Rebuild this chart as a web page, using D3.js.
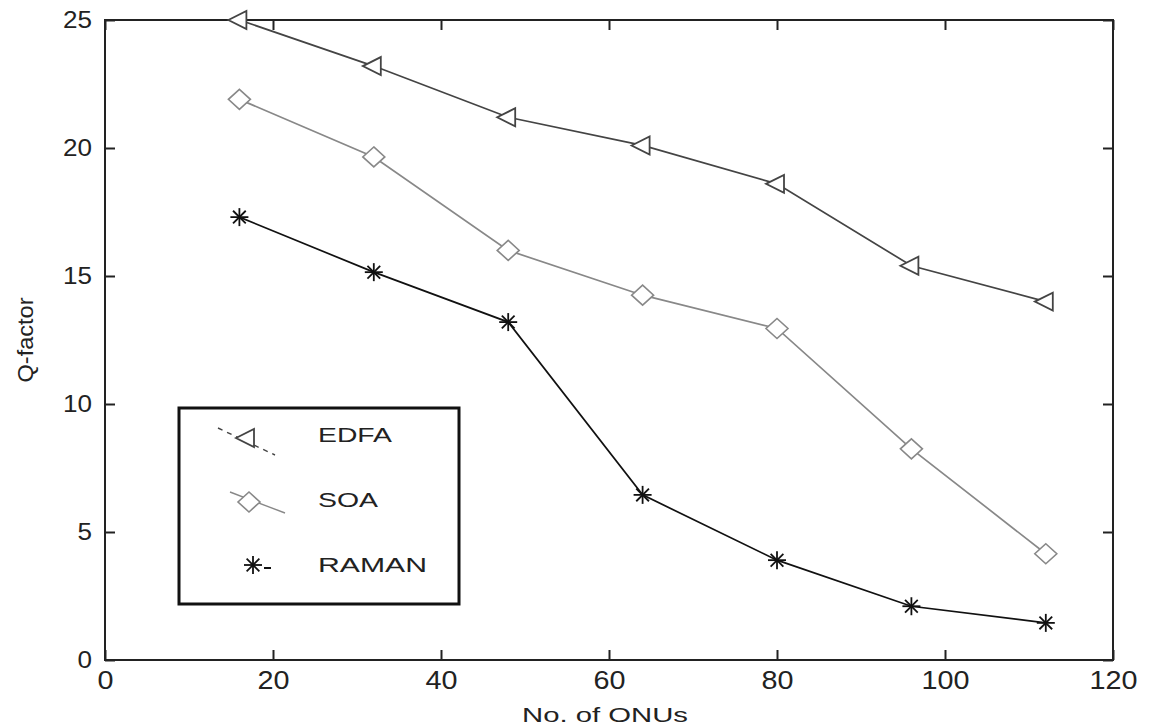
<!DOCTYPE html>
<html><head><meta charset="utf-8">
<script src="https://cdn.jsdelivr.net/npm/d3@7"></script>
<style>body{margin:0;background:#fff}svg{display:block}</style>
</head><body>
<svg id="c" width="1149" height="726"></svg>
<script>
const onus = [16, 32, 48, 64, 80, 96, 112];
const edfa = [25.0, 23.2, 21.2, 20.1, 18.6, 15.4, 14.0];
const soa = [21.9, 19.65, 16.0, 14.25, 12.95, 8.25, 4.15];
const raman = [17.3, 15.15, 13.2, 6.45, 3.9, 2.1, 1.45];
const xTicks = [0, 20, 40, 60, 80, 100, 120];
const yTicks = [0, 5, 10, 15, 20, 25];
const seriesNames = ["EDFA", "SOA", "RAMAN"];

const svg = d3.select("#c");
const L = 105, R = 1113, T = 20, B = 660;
const x = d3.scaleLinear().domain([0, 120]).range([L, R]);
const y = d3.scaleLinear().domain([0, 25]).range([B, T]);
const font = "'Liberation Sans', Arial, sans-serif";

// frame
svg.append("rect").attr("x", L).attr("y", T).attr("width", R - L).attr("height", B - T)
  .attr("fill", "none").attr("stroke", "#222").attr("stroke-width", 2);

// axes with inward ticks
const ax = svg.append("g").attr("transform", `translate(0,${B})`)
  .call(d3.axisBottom(x).tickValues(xTicks).tickSize(-10).tickFormat(d3.format("d")));
const axT = svg.append("g").attr("transform", `translate(0,${T})`)
  .call(d3.axisTop(x).tickValues(xTicks).tickSize(-10).tickFormat(""));
const ay = svg.append("g").attr("transform", `translate(${L},0)`)
  .call(d3.axisLeft(y).tickValues(yTicks).tickSize(-10).tickPadding(13));
const ayR = svg.append("g").attr("transform", `translate(${R},0)`)
  .call(d3.axisRight(y).tickValues(yTicks).tickSize(-10).tickFormat(""));
[ax, axT, ay, ayR].forEach(g => {
  g.select(".domain").remove();
  g.selectAll(".tick line").attr("stroke", "#222").attr("stroke-width", 2);
});
ax.selectAll("text").attr("font-family", font).attr("font-size", 25).attr("fill", "#222")
  .attr("y", 29).attr("dy", 0)
  .attr("textLength", function(){ return this.textContent.length * 16; })
  .attr("lengthAdjust", "spacingAndGlyphs");
ay.selectAll("text").attr("font-family", font).attr("font-size", 23).attr("fill", "#222")
  .attr("textLength", function(){ return this.textContent.length * 14.5; })
  .attr("lengthAdjust", "spacingAndGlyphs");

// axis titles
svg.append("text").attr("x", 605).attr("y", 722).attr("text-anchor", "middle")
  .attr("font-family", font).attr("font-size", 21).attr("fill", "#222")
  .attr("textLength", 166).attr("lengthAdjust", "spacingAndGlyphs")
  .text("No. of ONUs");
svg.append("text").attr("transform", `translate(33,340) rotate(-90)`).attr("text-anchor", "middle")
  .attr("font-family", font).attr("font-size", 22).attr("fill", "#222")
  .attr("textLength", 85).attr("lengthAdjust", "spacingAndGlyphs").text("Q-factor");

const line = d3.line().x((d, i) => x(onus[i])).y(d => y(d));
const colors = { EDFA: "#444", SOA: "#888", RAMAN: "#111" };
const data = { EDFA: edfa, SOA: soa, RAMAN: raman };

function marker(g, name, cx, cy) {
  const c = colors[name];
  if (name === "EDFA") {
    g.append("path").attr("d", `M${cx - 11},${cy} L${cx + 7},${cy - 9} L${cx + 7},${cy + 9} Z`)
      .attr("fill", "#fff").attr("stroke", "#444").attr("stroke-width", 1.8);
  } else if (name === "SOA") {
    g.append("path").attr("d", `M${cx},${cy - 10} L${cx + 11},${cy} L${cx},${cy + 10} L${cx - 11},${cy} Z`)
      .attr("fill", "#fff").attr("stroke", "#888").attr("stroke-width", 1.6);
  } else {
    const r = 9;
    [0, 45, 90, 135].forEach(a => {
      const rad = a * Math.PI / 180;
      g.append("line").attr("x1", cx - r * Math.cos(rad)).attr("y1", cy - r * Math.sin(rad))
        .attr("x2", cx + r * Math.cos(rad)).attr("y2", cy + r * Math.sin(rad))
        .attr("stroke", c).attr("stroke-width", 1.8);
    });
  }
}

seriesNames.forEach(name => {
  svg.append("path").datum(data[name]).attr("d", line).attr("fill", "none")
    .attr("stroke", colors[name]).attr("stroke-width", 1.7);
});
seriesNames.forEach(name => {
  const g = svg.append("g");
  data[name].forEach((v, i) => marker(g, name, x(onus[i]), y(v)));
});

// legend
const lg = svg.append("g");
lg.append("rect").attr("x", 179).attr("y", 408).attr("width", 280).attr("height", 196)
  .attr("fill", "#fff").attr("stroke", "#111").attr("stroke-width", 3);
// EDFA sample
lg.append("line").attr("x1", 218).attr("y1", 428).attr("x2", 275).attr("y2", 455)
  .attr("stroke", "#444").attr("stroke-width", 1.4).attr("stroke-dasharray", "5,5");
marker(lg, "EDFA", 247, 438);
// SOA sample
lg.append("line").attr("x1", 230).attr("y1", 492).attr("x2", 285).attr("y2", 513)
  .attr("stroke", "#888").attr("stroke-width", 1.4);
marker(lg, "SOA", 249, 502);
// RAMAN sample
lg.append("line").attr("x1", 264).attr("y1", 568).attr("x2", 271).attr("y2", 568)
  .attr("stroke", "#111").attr("stroke-width", 2);
marker(lg, "RAMAN", 253, 565);
const legY = [442, 507, 572];
const legW = [74, 60, 109];
seriesNames.forEach((n, i) => {
  lg.append("text").attr("x", 318).attr("y", legY[i]).attr("font-family", font)
    .attr("font-size", 21).attr("fill", "#222")
    .attr("textLength", legW[i]).attr("lengthAdjust", "spacingAndGlyphs").text(n);
});
</script>
</body></html>
